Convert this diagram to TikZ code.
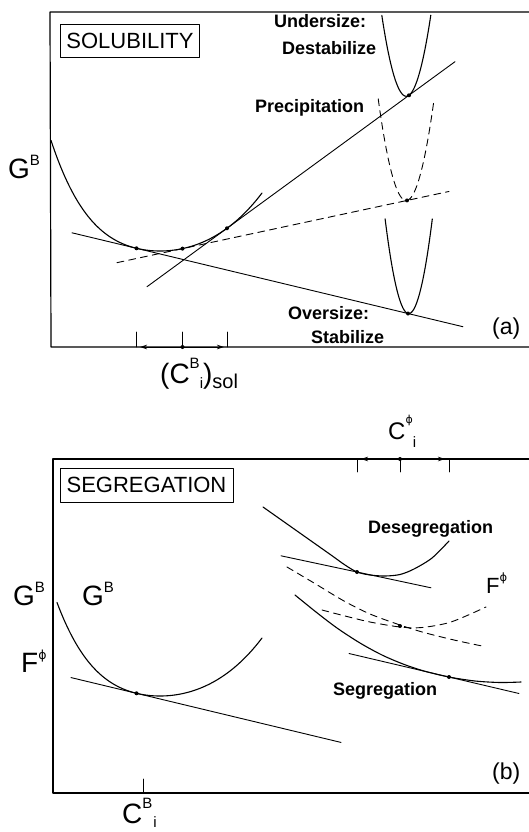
\documentclass[tikz,border=0pt]{standalone}
\usepackage{fontspec}
\usetikzlibrary{arrows.meta}
\setmainfont{Liberation Sans}
\newfontfamily\phifont{DejaVu Sans}
\newcommand{\bigsz}{\fontsize{28}{28}\selectfont}
\newcommand{\midsz}{\fontsize{23}{23}\selectfont}
\newcommand{\upidx}[2]{\raisebox{#1}{\fontsize{15}{15}\selectfont #2}}
\newcommand{\phisup}[2]{\raisebox{#1}{\fontsize{#2}{#2}\phifont ϕ}}
\begin{document}
\begin{tikzpicture}[x=1pt,y=-1pt,line join=round,line cap=round,>={Stealth[length=7pt,width=4.5pt]},
  declare function={ua(\t)=(\t-160)/100;
    gdrop(\t)=46.8*ua(\t)^2+(\t<160?39:8.6)*ua(\t)^4;},
  frame/.style={line width=1.2pt},
  curve/.style={line width=1.1pt},
  tline/.style={line width=0.9pt},
  dline/.style={line width=0.9pt,dash pattern=on 7pt off 5pt},
  lbl/.style={inner sep=0pt,anchor=base west,font=\fontsize{18}{18}\selectfont\bfseries},
  big/.style={inner sep=0pt,anchor=base west},
  titletxt/.style={inner sep=0pt,font=\fontsize{22}{22}\selectfont}]
\useasboundingbox (0,0) rectangle (529,832);
% (a) solubility
\draw[frame] (529,12) -- (50,12) -- (51,347) -- (529,347);
\draw[line width=0.7pt] (60.7,24) rectangle (199,57);
\node[titletxt] (solbox) at (130,40.5) {SOLUBILITY};
\node[big] (GBa) at (8,178) {\bigsz G\upidx{13pt}{B}};
\draw[curve,domain=51:262,samples=120,variable=\x] plot (\x,{251-gdrop(\x)});
\coordinate (pa1) at (136.5,248.3);
\coordinate (pa2) at (182.5,248.61);
\coordinate (pa3) at (227,228.26);
\draw[tline] (72,232.81) -- (463,326.73);
\draw[tline] (147,286.71) -- (455,61.68);
\draw[dline] (117,262.66) -- (449,191.45);
\draw[curve,domain=381.8:430.8,samples=60,variable=\x]
  plot (\x,{95.3-0.7306*(\x-409)-0.135*(\x-409)^2});
\draw[dline,domain=378.2:434.1,samples=60,variable=\x]
  plot (\x,{200.45-0.2145*(\x-407)-0.13*(\x-407)^2});
\draw[curve,domain=385.1:432.3,samples=60,variable=\x]
  plot (\x,{313.51+0.2402*(\x-408)-0.17*(\x-408)^2});
\foreach \p in {(pa1),(pa2),(pa3),(409,95.3),(407,200.45),(408,313.51)}
  \fill \p circle (2pt);
\node[lbl] (under) at (274,28) {Undersize:};
\node[lbl] (destab) at (282,55) {Destabilize};
\node[lbl] (precip) at (255,113) {Precipitation};
\node[lbl] (over) at (288,319) {Oversize:};
\node[lbl] (stab) at (311,343) {Stabilize};
\node[big] (laba) at (492,334) {\midsz (a)};
\foreach \t in {136.5,182.5,227}
  \draw[tline] (\t,347) -- (\t,332);
\coordinate (csa) at (182.5,347);
\draw[tline,->] (csa) -- (140,347);
\draw[tline,->] (csa) -- (224,347);
\fill (csa) circle (2pt);
\node[big] (csol) at (160,383) {\bigsz (C\upidx{15pt}{B}\upidx{-5pt}{i})\raisebox{-5pt}{\fontsize{20}{20}\selectfont sol}};
% (b) segregation
\draw[frame] (529,459) -- (53,459) -- (53,793) -- (529,793);
\draw[line width=0.7pt] (60,468) rectangle (233,502);
\node[titletxt] (segbox) at (146.5,485) {SEGREGATION};
\node[big] (GBb) at (13,605) {\bigsz G\upidx{13pt}{B}};
\node[big] (GBin) at (82,605) {\bigsz G\upidx{13pt}{B}};
\node[big] (Fphi) at (21,672) {\bigsz F\phisup{13pt}{12.5}};
\draw[curve,domain=57:262,samples=120,variable=\x] plot (\x,{696-gdrop(\x)});
\draw[tline] (71,677.57) -- (341,742.42);
\fill (136.5,693.3) circle (2pt);
\draw[curve] plot[smooth] coordinates {(263,507) (297,531) (331,555) (345,565)
  (357,572) (370,575) (385,576) (400,574.5) (414,569) (432,558) (449,541)};
\draw[tline] (281,555.8) -- (431,587.8);
\draw[curve] plot[smooth] coordinates {(295,595) (316,612) (337,628) (360,643)
  (382,655) (403,664) (424,671) (449,677) (475,681) (500,682.5) (521,682)};
\draw[tline] (349,653.5) -- (519,693.5);
\draw[dline] plot[smooth] coordinates {(287,567) (314,583) (344,601) (370,614)
  (400,625) (424,632.5) (454,640) (482,646)};
\draw[dline] plot[smooth] coordinates {(322,610) (345,616) (370,622) (400,627)
  (422,627.5) (451,622) (486,607)};
\foreach \p in {(357,572),(449,677),(400,626)}
  \fill \p circle (2pt);
\node[lbl] (deseg) at (368,533) {Desegregation};
\node[lbl] (seg) at (333,695) {Segregation};
\node[big] (Fphir) at (486,593) {\fontsize{22}{22}\selectfont F\phisup{12pt}{11.5}};
\node[big] (labb) at (492,779) {\midsz (b)};
\foreach \t in {357,400,449}
  \draw[tline] (\t,459) -- (\t,472);
\coordinate (csb) at (400,459);
\draw[tline,->] (csb) -- (361,459);
\draw[tline,->] (csb) -- (445,459);
\fill (csb) circle (2pt);
\node[big] (cphi) at (388,439) {\fontsize{24}{24}\selectfont C\phisup{16pt}{11}\upidx{-8pt}{i}};
\draw[tline] (143,779) -- (143,793);
\node[big] (cbi) at (122,823) {\bigsz C\upidx{15pt}{B}\kern1pt\upidx{-4pt}{i}};
\end{tikzpicture}
\end{document}
